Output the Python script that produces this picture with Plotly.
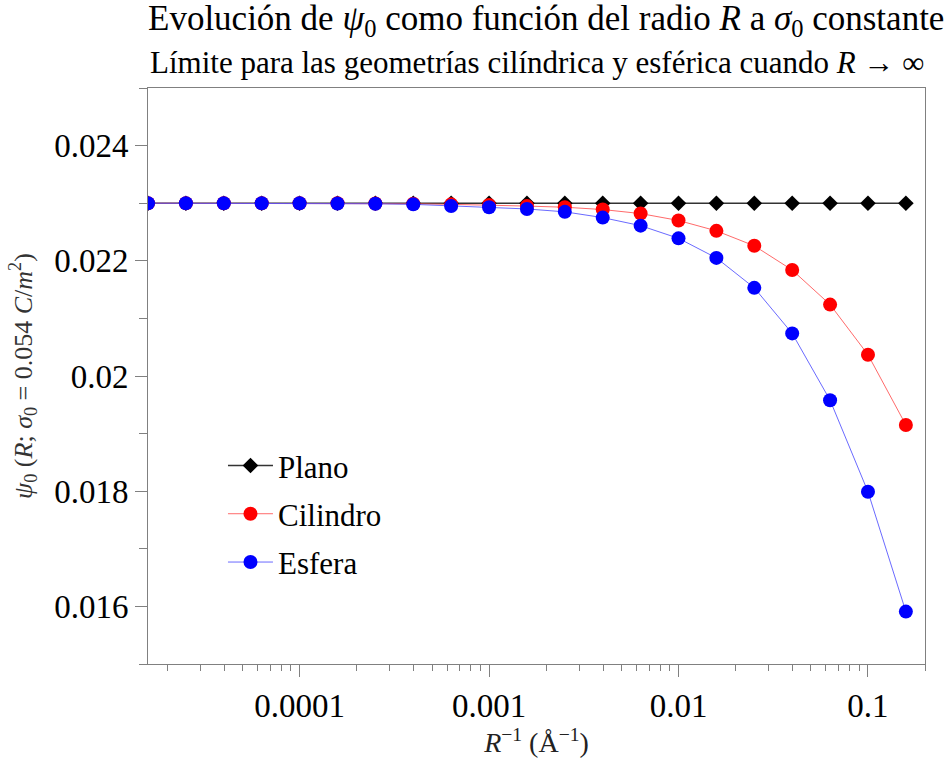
import plotly.graph_objects as go

# R^{-1} values (1/Å)
r_inv = [1.585e-5, 2.512e-5, 3.981e-5, 6.310e-5, 1.000e-4, 1.585e-4, 2.512e-4,
         3.981e-4, 6.310e-4, 1.000e-3, 1.585e-3, 2.512e-3, 3.981e-3, 6.310e-3,
         1.000e-2, 1.585e-2, 2.512e-2, 3.981e-2, 6.310e-2, 1.000e-1, 1.585e-1]

plano = [0.023, 0.023, 0.023, 0.023, 0.023, 0.023, 0.023, 0.023, 0.023, 0.023, 0.023,
         0.023, 0.023, 0.023, 0.023, 0.023, 0.023, 0.023, 0.023, 0.023, 0.023]

cilindro = [0.023, 0.023, 0.023, 0.023, 0.023, 0.022998, 0.022995, 0.02299, 0.02298,
            0.02297, 0.02295, 0.02293, 0.02289, 0.02282, 0.0227, 0.02252, 0.02226,
            0.02184, 0.02124, 0.02037, 0.01915]

esfera = [0.023, 0.023, 0.023, 0.023, 0.022998, 0.022995, 0.02299, 0.02298, 0.02295,
          0.02293, 0.0229, 0.02285, 0.02275, 0.02261, 0.02239, 0.02205, 0.02153,
          0.02074, 0.01958, 0.01799, 0.01591]

x_major = [1e-4, 1e-3, 1e-2, 1e-1]
x_major_text = ["0.0001", "0.001", "0.01", "0.1"]
x_minor = [m * d for d in [1e-5, 1e-4, 1e-3, 1e-2, 1e-1] for m in range(2, 10)]

y_major = [0.016, 0.018, 0.020, 0.022, 0.024]
y_major_text = ["0.016", "0.018", "0.02", "0.022", "0.024"]

FONT = "Liberation Serif"
AXIS_COLOR = "#808080"

fig = go.Figure()
fig.add_trace(go.Scatter(
    x=r_inv, y=plano, name="Plano", mode="lines+markers",
    line=dict(color="#333333", width=1.5),
    marker=dict(symbol="diamond", size=12, color="black"),
    legendgroup="a"))
fig.add_trace(go.Scatter(
    x=r_inv, y=cilindro, name="Cilindro", mode="lines+markers",
    line=dict(color="rgba(255,80,80,0.85)", width=1),
    marker=dict(symbol="circle", size=14, color="red"),
    legendgroup="b"))
fig.add_trace(go.Scatter(
    x=r_inv, y=esfera, name="Esfera", mode="lines+markers",
    line=dict(color="rgba(80,80,255,0.85)", width=1),
    marker=dict(symbol="circle", size=14, color="blue"),
    legendgroup="c"))

fig.update_layout(
    width=946, height=763,
    margin=dict(l=148, r=21, t=88, b=99),
    paper_bgcolor="white", plot_bgcolor="white",
    font=dict(family=FONT, color="black"),
    showlegend=True,
    legend=dict(x=0.0965, y=0.391, xanchor="left", yanchor="top",
                font=dict(family=FONT, size=31, color="black"),
                bgcolor="rgba(0,0,0,0)", tracegroupgap=5, itemwidth=45,
                traceorder="grouped"),
    annotations=[
        dict(text="Evolución de <i>ψ</i><sub>0</sub> como función del radio <i>R</i> a <i>σ</i><sub>0</sub> constante",
             xref="paper", yref="paper", x=0.512, y=1.117, xanchor="center", yanchor="middle",
             showarrow=False, font=dict(family=FONT, size=35, color="black")),
        dict(text="Límite para las geometrías cilíndrica y esférica cuando <i>R</i> → ∞",
             xref="paper", yref="paper", x=0.5, y=1.045, xanchor="center", yanchor="middle",
             showarrow=False, font=dict(family=FONT, size=31, color="black")),
    ],
)

fig.update_xaxes(
    type="log", range=[-4.8, -0.699],
    showline=True, linecolor=AXIS_COLOR, linewidth=1, mirror=True,
    showgrid=False, zeroline=False,
    tickmode="array", tickvals=x_major, ticktext=x_major_text,
    ticks="outside", ticklen=12, tickcolor=AXIS_COLOR, tickwidth=1,
    tickfont=dict(family=FONT, size=33, color="black"),
    minor=dict(tickmode="array", tickvals=x_minor, ticks="outside", ticklen=6,
               tickcolor=AXIS_COLOR, tickwidth=1, showgrid=False),
    title=dict(text="<i>R</i><sup>−1</sup> (Å<sup>−1</sup>)",
               font=dict(family=FONT, size=28, color="#222222"), standoff=4),
)

fig.update_yaxes(
    range=[0.015, 0.025],
    showline=True, linecolor=AXIS_COLOR, linewidth=1, mirror=True,
    showgrid=False, zeroline=False,
    tickmode="array", tickvals=y_major, ticktext=y_major_text,
    ticks="outside", ticklen=12, tickcolor=AXIS_COLOR, tickwidth=1,
    tickfont=dict(family=FONT, size=33, color="black"),
    minor=dict(dtick=0.001, tick0=0.015, ticks="outside", ticklen=8,
               tickcolor=AXIS_COLOR, tickwidth=1, showgrid=False),
    title=dict(text="<i>ψ</i><sub>0</sub> (<i>R</i>; <i>σ</i><sub>0</sub> = 0.054 <i>C</i>/<i>m</i><sup>2</sup>)",
               font=dict(family=FONT, size=26, color="#333333"), standoff=14),
)

fig.write_html("out.html")
